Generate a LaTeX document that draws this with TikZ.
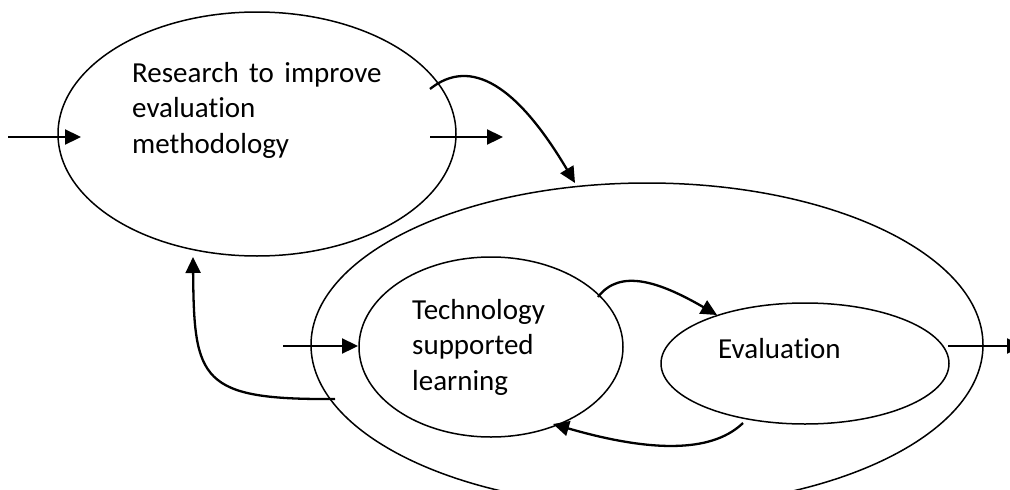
\documentclass[tikz,border=0pt]{standalone}
\usepackage{fontspec}
\setmainfont{Carlito}[Ligatures={NoCommon,NoContextual},WordSpace=1.6]
\usetikzlibrary{shapes.geometric,arrows.meta}
\begin{document}
\begin{tikzpicture}[x=1pt,y=-1pt,
  bub/.style={draw, ellipse, line width=1.5pt, inner sep=0pt},
  con/.style={line width=2.3pt, -{Triangle[length=16pt,width=15pt]}},
  lbl/.style={font=\fontsize{29}{35.5}\selectfont, align=left, inner sep=0pt, anchor=base west}]
\clip (0,0) rectangle (1010,490);
\node[bub, minimum width=398pt, minimum height=244pt] (research) at (257,134) {};
\node[bub, minimum width=672pt, minimum height=324pt] (system) at (647,345) {};
\node[bub, minimum width=264pt, minimum height=180pt] (tsl) at (491,347) {};
\node[bub, minimum width=288pt, minimum height=121pt] (eval) at (805,363.5) {};
\node[lbl] (tr) at (132,153) {Research to improve\\evaluation\\methodology};
\node[lbl] (tt) at (412,390) {Technology\\supported\\learning};
\node[lbl] (te) at (718,358) {Evaluation};
\coordinate (a0) at (8,137);   \coordinate (a1) at (81,137);
\coordinate (b0) at (430,137); \coordinate (b1) at (503,137);
\coordinate (c0) at (430,89);  \coordinate (c1) at (575,183);
\coordinate (d0) at (283,346); \coordinate (d1) at (358,346);
\coordinate (e0) at (598,297); \coordinate (e1) at (717,315);
\coordinate (f0) at (743,423); \coordinate (f1) at (553,424);
\coordinate (g0) at (335,399); \coordinate (g1) at (193,257);
\coordinate (h0) at (948,346); \coordinate (h1) at (1023,346);
\draw[con] (a0) -- (a1);
\draw[con] (b0) -- (b1);
\draw[con] (c0) .. controls (460,65) and (505,65) .. (c1);
\draw[con] (d0) -- (d1);
\draw[con] (e0) .. controls (620,268) and (660,282) .. (e1);
\draw[con] (f0) .. controls (715,450) and (660,455) .. (f1);
\draw[con] (g0) .. controls (200,400) and (194,380) .. (g1);
\draw[con] (h0) -- (h1);
\end{tikzpicture}
\end{document}
